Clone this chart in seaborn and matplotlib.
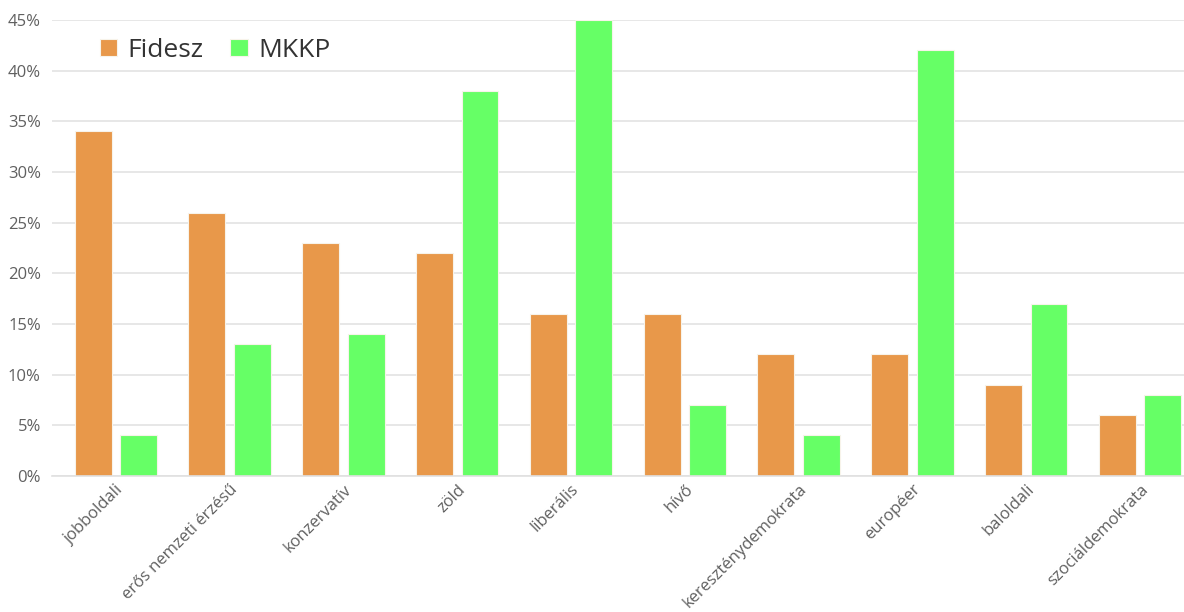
import matplotlib
matplotlib.use("Agg")
import matplotlib.pyplot as plt
import seaborn as sns
import pandas as pd
from matplotlib.ticker import FuncFormatter

sns.set_theme(style='white')
plt.rcParams['font.family'] = ['Open Sans', 'DejaVu Sans']

kategoriak = ['jobboldali', 'erős nemzeti érzésű', 'konzervatív', 'zöld', 'liberális',
              'hívő', 'kereszténydemokrata', 'européer', 'baloldali', 'szociáldemokrata']
fidesz = [34, 26, 23, 22, 16, 16, 12, 12, 9, 6]
mkkp = [4, 13, 14, 38, 45, 7, 4, 42, 17, 8]
partok = ['Fidesz', 'MKKP']
szinek = ['#E8984A', '#66FF66']

df = pd.DataFrame({
    'kategoria': kategoriak * 2,
    'part': [partok[0]] * len(kategoriak) + [partok[1]] * len(kategoriak),
    'ertek': fidesz + mkkp,
})

fig = plt.figure(figsize=(11.84, 6.12), dpi=100)
ax = fig.add_axes([52 / 1184, 136 / 612, (1184 - 52) / 1184, 456 / 612])

sns.barplot(data=df, x='kategoria', y='ertek', hue='part', palette=szinek,
            saturation=1, width=0.8, gap=0.19, edgecolor='#f7f3ea', linewidth=0.8, ax=ax)

ax.set_xlim(-0.561, 9.386)
ax.set_ylim(0, 45)
ax.set_yticks(range(0, 46, 5))
ax.yaxis.set_major_formatter(FuncFormatter(lambda v, p: f'{int(v)}%'))
ax.grid(axis='y', color='#e3e3e3', linewidth=1.2)
ax.set_axisbelow(True)
for s in ['top', 'right', 'left']:
    ax.spines[s].set_visible(False)
ax.spines['bottom'].set_color('#e0e0e0')
ax.spines['bottom'].set_linewidth(1.2)
ax.set_xlabel('')
ax.set_ylabel('')
ax.tick_params(axis='both', length=0, colors='#606060', labelsize=12)
ax.tick_params(axis='y', pad=8)
ax.tick_params(axis='x', pad=4)
plt.setp(ax.get_xticklabels(), rotation=45, ha='right', rotation_mode='anchor')

ax.legend(title=None, loc='upper left', bbox_to_anchor=(76 / 1184, 1 - 14 / 612),
          bbox_transform=fig.transFigure, ncol=2, frameon=False, fontsize=19,
          handlelength=0.66, handleheight=0.66, handletextpad=0.4, columnspacing=1.0,
          labelcolor='#333333')

fig.savefig('out.png', dpi=100)
